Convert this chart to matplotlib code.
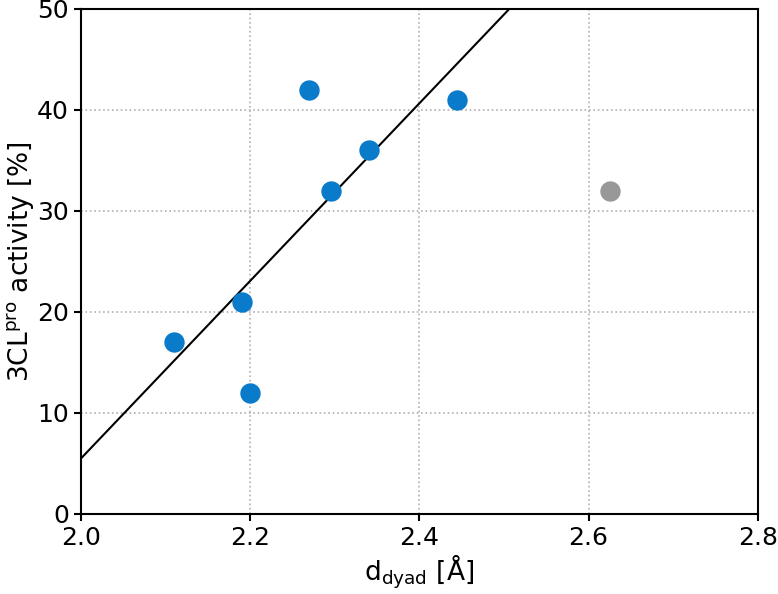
import matplotlib
matplotlib.use("Agg")
import matplotlib.pyplot as plt
import numpy as np

# blue points (used for the fit) and the excluded grey point
d_dyad = [2.11, 2.19, 2.20, 2.27, 2.295, 2.34, 2.445]
activity = [17, 21, 12, 42, 32, 36, 41]
d_out = [2.625]
act_out = [32]

plt.rcParams['font.size'] = 18

fig = plt.figure(figsize=(7.78, 5.94), dpi=100)
ax = fig.add_axes([0.104, 0.135, 0.870, 0.850])

slope, icept = np.polyfit(d_dyad, activity, 1)
xx = np.array([2.0, 2.8])
ax.plot(xx, slope * xx + icept, color='black', lw=1.5, zorder=2)

ax.scatter(d_dyad, activity, s=215, color='#0a7acb', zorder=3, linewidths=0)
ax.scatter(d_out, act_out, s=215, color='#989898', zorder=3, linewidths=0)

ax.set_xlim(2.0, 2.8)
ax.set_ylim(0, 50)
ax.set_xticks([2.0, 2.2, 2.4, 2.6, 2.8])
ax.set_yticks([0, 10, 20, 30, 40, 50])
ax.grid(True, linestyle=':', color='#b0b0b0', lw=1.2)
ax.set_axisbelow(True)
for sp in ax.spines.values():
    sp.set_linewidth(1.5)
ax.tick_params(width=1.5, length=5)

ax.set_xlabel(r'd$_{\rm dyad}$ [Å]', fontsize=19, labelpad=2)
ax.set_ylabel(r'3CL$^{\rm pro}$ activity [%]', fontsize=19, labelpad=1)

fig.savefig('out.png', dpi=100)
